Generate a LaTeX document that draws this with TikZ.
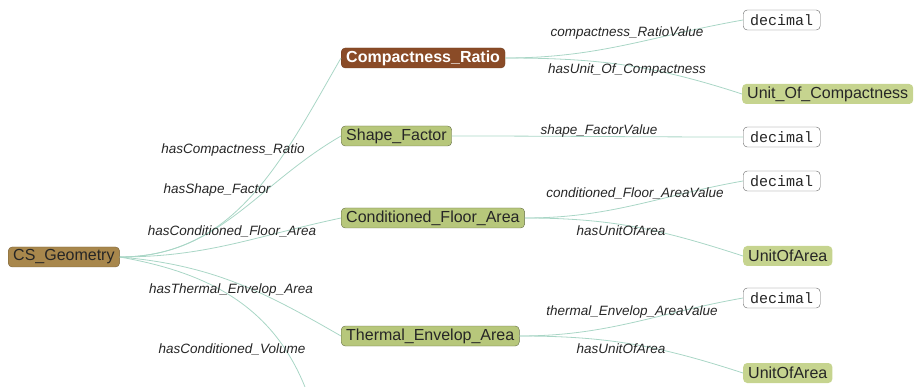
\documentclass[tikz,border=0pt]{standalone}
\usepackage{fontspec}
\setmainfont{Liberation Sans}
\setmonofont{Liberation Mono}
\usetikzlibrary{positioning}
\definecolor{geobrown}{HTML}{A8874C}
\definecolor{ratiobrown}{HTML}{8A4B27}
\definecolor{classgreen}{HTML}{B7C77B}
\definecolor{unitgreen}{HTML}{C6D48F}
\definecolor{linkteal}{HTML}{A9D6C6}

\begin{document}
\begin{tikzpicture}[x=1pt,y=-1pt,
  thing/.style={rounded corners=4pt,inner xsep=5pt,inner ysep=0pt,minimum height=20pt,anchor=west,text=black!85,font=\fontsize{16}{18}\selectfont},
  rootbox/.style={thing,draw=geobrown!70!black,fill=geobrown},
  ratiobox/.style={thing,draw=ratiobrown!80!black,fill=ratiobrown,text=white,font=\fontsize{16}{18}\selectfont\bfseries},
  classbox/.style={thing,draw=classgreen!55!black,fill=classgreen},
  unitbox/.style={thing,fill=unitgreen},
  litbox/.style={thing,inner xsep=7pt,draw=black!60,fill=white,font=\ttfamily\fontsize{15}{18}\selectfont},
  rel/.style={text=black!85,font=\itshape\fontsize{13.5}{16}\selectfont},
  link/.style={draw=linkteal,thick}]

\useasboundingbox (0,0) rectangle (918,387);

\node[rootbox] (geo) at (8,257) {CS\_Geometry};

\node[ratiobox] (cr) at (341,58) {Compactness\_Ratio};
\node[classbox] (sf) at (341,136) {Shape\_Factor};
\node[classbox] (cfa) at (341,218) {Conditioned\_Floor\_Area};
\node[classbox] (tea) at (341,336) {Thermal\_Envelop\_Area};
\coordinate (vol) at (305,387);

\node[litbox] (d1) at (743,20) {decimal};
\node[unitbox] (uoc) at (742,94) {Unit\_Of\_Compactness};
\node[litbox] (d2) at (743,137) {decimal};
\node[litbox] (d3) at (743,181) {decimal};
\node[unitbox] (ua1) at (743,256) {UnitOfArea};
\node[litbox] (d4) at (743,298) {decimal};
\node[unitbox] (ua2) at (743,373) {UnitOfArea};

\draw[link] (geo.east) to[out=0,in=-120] (cr.west);
\draw[link] (geo.east) to[out=0,in=-150] (sf.west);
\draw[link] (geo.east) to[out=0,in=-168] (cfa.west);
\draw[link] (geo.east) to[out=-5,in=150] (tea.west);
\draw[link] (geo.east) to[out=-10,in=112] (vol);

\draw[link] (cr.east) to[out=0,in=190] (d1.west);
\draw[link] (cr.east) to[out=0,in=162] (uoc.west);
\draw[link] (sf.east) to[out=0,in=180] (d2.west);
\draw[link] (cfa.east) to[out=0,in=190] (d3.west);
\draw[link] (cfa.east) to[out=0,in=162] (ua1.west);
\draw[link] (tea.east) to[out=0,in=190] (d4.west);
\draw[link] (tea.east) to[out=0,in=162] (ua2.west);

\node[rel] (lcr) at (233,150) {hasCompactness\_Ratio};
\node[rel] (lsf) at (217,190) {hasShape\_Factor};
\node[rel] (lcfa) at (232,231) {hasConditioned\_Floor\_Area};
\node[rel] (ltea) at (231,290) {hasThermal\_Envelop\_Area};
\node[rel] (lvol) at (232,349) {hasConditioned\_Volume};

\node[rel] (lcrv) at (627,33) {compactness\_RatioValue};
\node[rel] (lcru) at (627,70) {hasUnit\_Of\_Compactness};
\node[rel] (lsfv) at (599,131) {shape\_FactorValue};
\node[rel] (lcfav) at (635,193) {conditioned\_Floor\_AreaValue};
\node[rel] (lcfau) at (621,231) {hasUnitOfArea};
\node[rel] (lteav) at (632,312) {thermal\_Envelop\_AreaValue};
\node[rel] (lteau) at (621,349) {hasUnitOfArea};

\end{tikzpicture}
\end{document}
